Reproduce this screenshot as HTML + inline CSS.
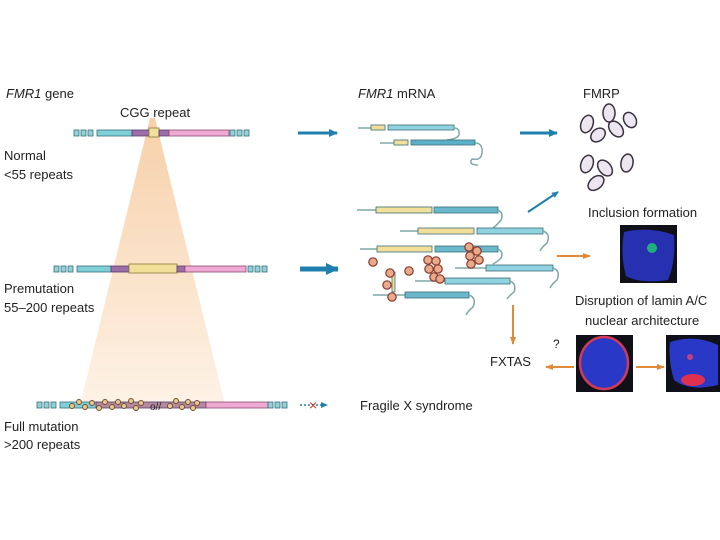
<!DOCTYPE html>
<html><head><meta charset="utf-8"><style>
html,body{margin:0;padding:0;background:#fff}
svg{display:block}
text{font-family:"Liberation Sans",Arial,sans-serif;fill:#222}
</style></head><body>
<svg width="720" height="540" viewBox="0 0 720 540" xmlns="http://www.w3.org/2000/svg">
<defs>
<linearGradient id="cone" x1="0" y1="0" x2="0" y2="1"><stop offset="0" stop-color="#f6c89a"/><stop offset="1" stop-color="#fdf0e2"/></linearGradient>
<g id="box"><rect width="5" height="6" fill="#8fd3d8" stroke="#3b6e78" stroke-width="0.8"/></g>
<g id="gr"><circle r="4.2" fill="#e8a98c" stroke="#8a3a2a" stroke-width="1.2"/></g>
<marker id="ab" markerUnits="userSpaceOnUse" markerWidth="10" markerHeight="10" refX="8" refY="5" orient="auto"><path d="M0,1 L9,5 L0,9z" fill="#1f7fae"/></marker>
<marker id="abs" markerUnits="userSpaceOnUse" markerWidth="7" markerHeight="7" refX="6" refY="3.5" orient="auto"><path d="M0,0.5 L7,3.5 L0,6.5z" fill="#1f7fae"/></marker>
<marker id="abb" markerUnits="userSpaceOnUse" markerWidth="14" markerHeight="14" refX="12" refY="7" orient="auto"><path d="M0,1 L13,7 L0,13z" fill="#1f7fae"/></marker>
<marker id="ao" markerUnits="userSpaceOnUse" markerWidth="8" markerHeight="8" refX="7" refY="4" orient="auto"><path d="M0,1 L8,4 L0,7z" fill="#e08a3a"/></marker>
</defs>
<polygon points="150,118 155,118 225,405 80,405" fill="url(#cone)" opacity="0.85"/>
<text x="6" y="98" font-size="13"><tspan font-style="italic">FMR1</tspan> gene</text>
<text x="120" y="117" font-size="13">CGG repeat</text>
<text x="4" y="160" font-size="13">Normal</text>
<text x="4" y="179" font-size="13">&lt;55 repeats</text>
<text x="4" y="293" font-size="13">Premutation</text>
<text x="4" y="312" font-size="13">55–200 repeats</text>
<text x="4" y="431" font-size="13">Full mutation</text>
<text x="4" y="449" font-size="13">&gt;200 repeats</text>
<g>
<use href="#box" x="74" y="130"/><use href="#box" x="81" y="130"/><use href="#box" x="88" y="130"/>
<rect x="97" y="130" width="35" height="6" fill="#7fcfd8" stroke="#3b6e78" stroke-width="0.8"/>
<rect x="132" y="130" width="17" height="6" fill="#9c6ea8" stroke="#5a3a66" stroke-width="0.8"/>
<rect x="149" y="128" width="10" height="9" fill="#f2e09a" stroke="#8a7a3a" stroke-width="0.8"/>
<rect x="159" y="130" width="10" height="6" fill="#9c6ea8" stroke="#5a3a66" stroke-width="0.8"/>
<rect x="169" y="130" width="60" height="6" fill="#eeaad2" stroke="#8a4a70" stroke-width="0.8"/>
<use href="#box" x="230" y="130"/><use href="#box" x="237" y="130"/><use href="#box" x="244" y="130"/>
</g>
<g>
<use href="#box" x="54" y="266"/><use href="#box" x="61" y="266"/><use href="#box" x="68" y="266"/>
<rect x="77" y="266" width="34" height="6" fill="#7fcfd8" stroke="#3b6e78" stroke-width="0.8"/>
<rect x="111" y="266" width="18" height="6" fill="#9c6ea8" stroke="#5a3a66" stroke-width="0.8"/>
<rect x="129" y="264" width="48" height="9" fill="#f2e09a" stroke="#8a7a3a" stroke-width="0.8"/>
<rect x="177" y="266" width="8" height="6" fill="#9c6ea8" stroke="#5a3a66" stroke-width="0.8"/>
<rect x="185" y="266" width="61" height="6" fill="#eeaad2" stroke="#8a4a70" stroke-width="0.8"/>
<use href="#box" x="248" y="266"/><use href="#box" x="255" y="266"/><use href="#box" x="262" y="266"/>
</g>
<g>
<use href="#box" x="37" y="402"/><use href="#box" x="44" y="402"/><use href="#box" x="51" y="402"/>
<rect x="60" y="402" width="38" height="6" fill="#7fcfd8" stroke="#3b6e78" stroke-width="0.8"/>
<rect x="96" y="402" width="110" height="6" fill="#b58aa0" stroke="#5a3a66" stroke-width="0.8"/>
<rect x="206" y="402" width="62" height="6" fill="#eeaad2" stroke="#8a4a70" stroke-width="0.8"/>
<use href="#box" x="268" y="402"/><use href="#box" x="275" y="402"/><use href="#box" x="282" y="402"/>
<g fill="#e6c98f" stroke="#6b4a2a" stroke-width="0.9">
<circle cx="72" cy="406" r="2.5"/><circle cx="79" cy="402" r="2.5"/><circle cx="85" cy="407" r="2.5"/><circle cx="92" cy="403" r="2.5"/><circle cx="99" cy="408" r="2.5"/><circle cx="105" cy="402" r="2.5"/>
<circle cx="112" cy="407" r="2.5"/><circle cx="118" cy="402" r="2.5"/><circle cx="124" cy="406" r="2.5"/><circle cx="131" cy="401" r="2.5"/><circle cx="136" cy="408" r="2.5"/><circle cx="141" cy="403" r="2.5"/>
<circle cx="170" cy="406" r="2.5"/><circle cx="176" cy="401" r="2.5"/><circle cx="182" cy="407" r="2.5"/><circle cx="188" cy="402" r="2.5"/><circle cx="193" cy="408" r="2.5"/><circle cx="197" cy="403" r="2.5"/>
</g>
<text x="150" y="410" font-size="10" fill="#555">o//</text>
</g>
<line x1="298" y1="133" x2="337" y2="133" stroke="#1f7fae" stroke-width="3" marker-end="url(#ab)"/>
<line x1="520" y1="133" x2="557" y2="133" stroke="#1f7fae" stroke-width="3" marker-end="url(#ab)"/>
<line x1="300" y1="269" x2="338" y2="269" stroke="#1f7fae" stroke-width="5" marker-end="url(#abb)"/>
<line x1="300" y1="405" x2="327" y2="405" stroke="#1f7fae" stroke-width="1.5" stroke-dasharray="2,2" marker-end="url(#abs)"/>
<text x="309" y="410" font-size="14" style="fill:#d03020">×</text>
<line x1="528" y1="212" x2="558" y2="192" stroke="#1f7fae" stroke-width="2" marker-end="url(#abs)"/>
<line x1="557" y1="256" x2="590" y2="256" stroke="#e08a3a" stroke-width="2" marker-end="url(#ao)"/>
<line x1="513" y1="305" x2="513" y2="344" stroke="#e08a3a" stroke-width="2" marker-end="url(#ao)"/>
<line x1="574" y1="367" x2="546" y2="367" stroke="#e08a3a" stroke-width="2" marker-end="url(#ao)"/>
<line x1="636" y1="367" x2="664" y2="367" stroke="#e08a3a" stroke-width="2" marker-end="url(#ao)"/>
<text x="358" y="98" font-size="13"><tspan font-style="italic">FMR1</tspan> mRNA</text>
<text x="583" y="98" font-size="13">FMRP</text>
<text x="588" y="217" font-size="13">Inclusion formation</text>
<text x="575" y="305" font-size="13">Disruption of lamin A/C</text>
<text x="585" y="325" font-size="13">nuclear architecture</text>
<text x="490" y="366" font-size="13">FXTAS</text>
<text x="553" y="348" font-size="12">?</text>
<text x="360" y="410" font-size="13">Fragile X syndrome</text>
<g stroke="#3b6e78" stroke-width="0.8">
<line x1="358" y1="128" x2="371" y2="128" stroke="#7fa8a8" stroke-width="1.5"/>
<rect x="371" y="125" width="14" height="5" fill="#f2e09a"/>
<rect x="388" y="125" width="66" height="5" fill="#8fd3e0"/>
<path d="M454,128 q6,0 5,7 q-2,4 -12,5" fill="none" stroke="#7fa8a8" stroke-width="1.5"/>
<line x1="380" y1="143" x2="394" y2="143" stroke="#7fa8a8" stroke-width="1.5"/>
<rect x="394" y="140" width="14" height="5" fill="#f2e09a"/>
<rect x="411" y="140" width="64" height="5" fill="#5ab0c8"/>
<path d="M475,143 q8,0 7,10 q-1,8 -10,6 q-4,6 6,6" fill="none" stroke="#7fa8a8" stroke-width="1.5"/>
</g>
<g fill="#ece6f0" stroke="#3a3040" stroke-width="1.5">
<ellipse cx="587" cy="124" rx="6" ry="9" transform="rotate(20 587 124)"/>
<ellipse cx="609" cy="113" rx="6" ry="9"/>
<ellipse cx="630" cy="120" rx="6" ry="8" transform="rotate(-30 630 120)"/>
<ellipse cx="616" cy="129" rx="6" ry="9" transform="rotate(-40 616 129)"/>
<ellipse cx="598" cy="135" rx="6" ry="8" transform="rotate(50 598 135)"/>
<ellipse cx="587" cy="164" rx="6" ry="9" transform="rotate(20 587 164)"/>
<ellipse cx="605" cy="168" rx="6" ry="9" transform="rotate(-40 605 168)"/>
<ellipse cx="627" cy="163" rx="6" ry="9" transform="rotate(10 627 163)"/>
<ellipse cx="596" cy="183" rx="6" ry="9" transform="rotate(50 596 183)"/>
</g>
<g stroke="#3b6e78" stroke-width="0.8">
<line x1="357" y1="210" x2="376" y2="210" stroke="#7fa8a8" stroke-width="1.5"/>
<rect x="376" y="207" width="56" height="6" fill="#f2e09a"/><rect x="434" y="207" width="64" height="6" fill="#6ab8cc"/>
<path d="M498,210 q6,3 3,10 q-4,5 -8,8" fill="none" stroke="#7fa8a8" stroke-width="1.5"/>
<line x1="400" y1="231" x2="418" y2="231" stroke="#7fa8a8" stroke-width="1.5"/>
<rect x="418" y="228" width="56" height="6" fill="#f2e09a"/><rect x="477" y="228" width="66" height="6" fill="#8fd3e0"/>
<path d="M543,231 q8,3 4,12 q-5,4 -7,8" fill="none" stroke="#7fa8a8" stroke-width="1.5"/>
<line x1="360" y1="249" x2="377" y2="249" stroke="#7fa8a8" stroke-width="1.5"/>
<rect x="377" y="246" width="55" height="6" fill="#f2e09a"/><rect x="435" y="246" width="63" height="6" fill="#6ab8cc"/>
<path d="M498,249 q6,3 3,9 q-4,4 -8,6" fill="none" stroke="#7fa8a8" stroke-width="1.5"/>
<line x1="455" y1="268" x2="486" y2="268" stroke="#7fa8a8" stroke-width="1.5"/>
<rect x="486" y="265" width="67" height="6" fill="#8fd3e0"/>
<path d="M553,268 q8,3 4,12 q-5,4 -7,8" fill="none" stroke="#7fa8a8" stroke-width="1.5"/>
<line x1="415" y1="281" x2="445" y2="281" stroke="#7fa8a8" stroke-width="1.5"/>
<rect x="445" y="278" width="65" height="6" fill="#8fd3e0"/>
<path d="M510,281 q7,3 4,11 q-5,4 -7,7" fill="none" stroke="#7fa8a8" stroke-width="1.5"/>
<line x1="373" y1="295" x2="405" y2="295" stroke="#7fa8a8" stroke-width="1.5"/>
<rect x="405" y="292" width="64" height="6" fill="#6ab8cc"/>
<path d="M469,295 q8,3 4,12 q-5,4 -7,8" fill="none" stroke="#7fa8a8" stroke-width="1.5"/>
<rect x="392" y="272" width="3" height="20" fill="#f2e09a"/>
</g>
<g>
<use href="#gr" x="373" y="262"/><use href="#gr" x="390" y="273"/><use href="#gr" x="409" y="271"/>
<use href="#gr" x="387" y="285"/><use href="#gr" x="392" y="297"/>
<use href="#gr" x="428" y="260"/><use href="#gr" x="436" y="261"/><use href="#gr" x="429" y="269"/><use href="#gr" x="438" y="269"/><use href="#gr" x="434" y="277"/><use href="#gr" x="440" y="279"/>
<use href="#gr" x="469" y="247"/><use href="#gr" x="477" y="251"/><use href="#gr" x="470" y="256"/><use href="#gr" x="479" y="260"/><use href="#gr" x="471" y="264"/>
</g>
<rect x="620" y="225" width="57" height="58" fill="#101018"/>
<path d="M624,232 Q650,226 674,235 Q676,262 668,280 Q640,284 626,276 Q620,254 624,232z" fill="#2630b0"/>
<circle cx="652" cy="248" r="5" fill="#20b080"/>
<rect x="576" y="335" width="57" height="57" fill="#101018"/>
<ellipse cx="604" cy="363" rx="24" ry="26" fill="#2a38c8" stroke="#d03a5a" stroke-width="2.5"/>
<rect x="666" y="335" width="54" height="57" fill="#101018"/>
<path d="M670,342 Q695,334 718,345 L718,385 Q690,392 674,380 Q668,360 670,342z" fill="#2a38c8"/>
<ellipse cx="693" cy="380" rx="12" ry="6" fill="#e03050"/>
<circle cx="690" cy="357" r="3" fill="#c04080"/>
</svg>
</body></html>
